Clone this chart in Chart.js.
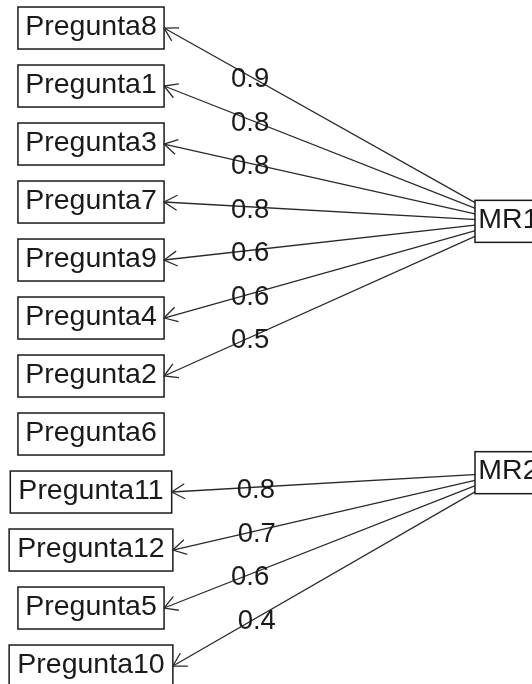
<!DOCTYPE html>
<html>
<head>
<meta charset="utf-8">
<script src="https://cdn.jsdelivr.net/npm/chart.js@4.4.1/dist/chart.umd.min.js"></script>
<style>
  html, body { margin: 0; padding: 0; background: #fff; }
  #wrap { width: 532px; height: 684px; }
</style>
</head>
<body>
<div id="wrap"><canvas id="diagrama"></canvas></div>
<script>
// Preguntas en el orden del diagrama
const preguntas = ["Pregunta8", "Pregunta1", "Pregunta3", "Pregunta7", "Pregunta9", "Pregunta4",
  "Pregunta2", "Pregunta6", "Pregunta11", "Pregunta12", "Pregunta5", "Pregunta10"];
// Factor de cada pregunta (null = sin carga sobre el corte)
const factorDePregunta = [0, 0, 0, 0, 0, 0, 0, null, 1, 1, 1, 1];
const cargas = [0.9, 0.8, 0.8, 0.8, 0.6, 0.6, 0.5, null, 0.8, 0.7, 0.6, 0.4];
const factores = ["MR1", "MR2"];

const fuente = "28.5px 'Liberation Sans', Arial, sans-serif";
const fuenteCarga = "27.5px 'Liberation Sans', Arial, sans-serif";
const ANCHO = 532;
const xMin = -0.218, xMax = 1.0565;
const yMin = 0.69, yMax = 12.483;

// Posiciones como en fa.diagram
const nVar = preguntas.length;
const nFac = factores.length;
const fEscala = (nVar + 1) / (nFac + 1);
const yPregunta = preguntas.map((p, i) => nVar - i);
const yFactor = factores.map((f, j) => (nFac - j) * fEscala);

// medir el texto para saber dónde termina cada caja
const ctxMedida = document.createElement("canvas").getContext("2d");
ctxMedida.font = fuente;
const mitadAncho = (t) => ctxMedida.measureText(t).width / 1.8;
const pxPorUnidad = ANCHO / (xMax - xMin);

const conexiones = [];
preguntas.forEach((p, i) => {
  const f = factorDePregunta[i];
  if (f === null) return;
  conexiones.push({
    label: p,
    data: [
      { x: mitadAncho(p) / pxPorUnidad, y: yPregunta[i] },
      { x: 1, y: yFactor[f] },
    ],
    carga: cargas[i],
    showLine: true,
    pointRadius: 0,
    borderColor: "#2a2a2a",
    borderWidth: 1.3,
  });
});

// Cajas, flechas y cargas
const pluginDiagrama = {
  id: "diagrama",
  afterDatasetsDraw(chart) {
    const { ctx, scales: { x, y } } = chart;
    ctx.save();

    function caja(texto, cx, cy) {
      ctx.font = fuente;
      const hw = ctx.measureText(texto).width / 1.8;
      const hh = 21;
      ctx.fillStyle = "#fff";
      ctx.fillRect(cx - hw, cy - hh, 2 * hw, 2 * hh);
      ctx.strokeStyle = "#1a1a1a";
      ctx.lineWidth = 1.5;
      ctx.strokeRect(cx - hw, cy - hh, 2 * hw, 2 * hh);
      ctx.fillStyle = "#1a1a1a";
      ctx.textAlign = "center";
      ctx.textBaseline = "alphabetic";
      ctx.fillText(texto, cx, cy + 6.5);
    }

    factores.forEach((f, j) => caja(f, x.getPixelForValue(1), y.getPixelForValue(yFactor[j])));
    preguntas.forEach((p, i) => caja(p, x.getPixelForValue(0), y.getPixelForValue(yPregunta[i])));

    chart.data.datasets.forEach((ds) => {
      const x0 = x.getPixelForValue(ds.data[0].x);
      const y0 = y.getPixelForValue(ds.data[0].y);
      const x1 = x.getPixelForValue(ds.data[1].x);
      const y1 = y.getPixelForValue(ds.data[1].y);
      const ang = Math.atan2(y1 - y0, x1 - x0);
      const largo = 15;

      // punta de flecha abierta
      ctx.strokeStyle = "#2a2a2a";
      ctx.lineWidth = 1.3;
      ctx.beginPath();
      ctx.moveTo(x0 + largo * Math.cos(ang - Math.PI / 6), y0 + largo * Math.sin(ang - Math.PI / 6));
      ctx.lineTo(x0, y0);
      ctx.lineTo(x0 + largo * Math.cos(ang + Math.PI / 6), y0 + largo * Math.sin(ang + Math.PI / 6));
      ctx.stroke();

      // carga a un cuarto del camino
      const lx = x0 + 0.25 * (x1 - x0);
      const ly = y0 + 0.25 * (y1 - y0);
      ctx.font = fuenteCarga;
      ctx.fillStyle = "#1a1a1a";
      ctx.textAlign = "center";
      ctx.textBaseline = "alphabetic";
      ctx.fillText(ds.carga.toFixed(1), lx, ly + 11);
    });

    ctx.restore();
  },
};

new Chart(document.getElementById("diagrama"), {
  type: "scatter",
  data: { datasets: conexiones },
  options: {
    responsive: true,
    maintainAspectRatio: false,
    animation: false,
    layout: { padding: 0 },
    plugins: { legend: { display: false }, tooltip: { enabled: false } },
    scales: {
      x: { type: "linear", min: xMin, max: xMax, display: false },
      y: { type: "linear", min: yMin, max: yMax, display: false },
    },
  },
  plugins: [pluginDiagrama],
});
</script>
</body>
</html>
